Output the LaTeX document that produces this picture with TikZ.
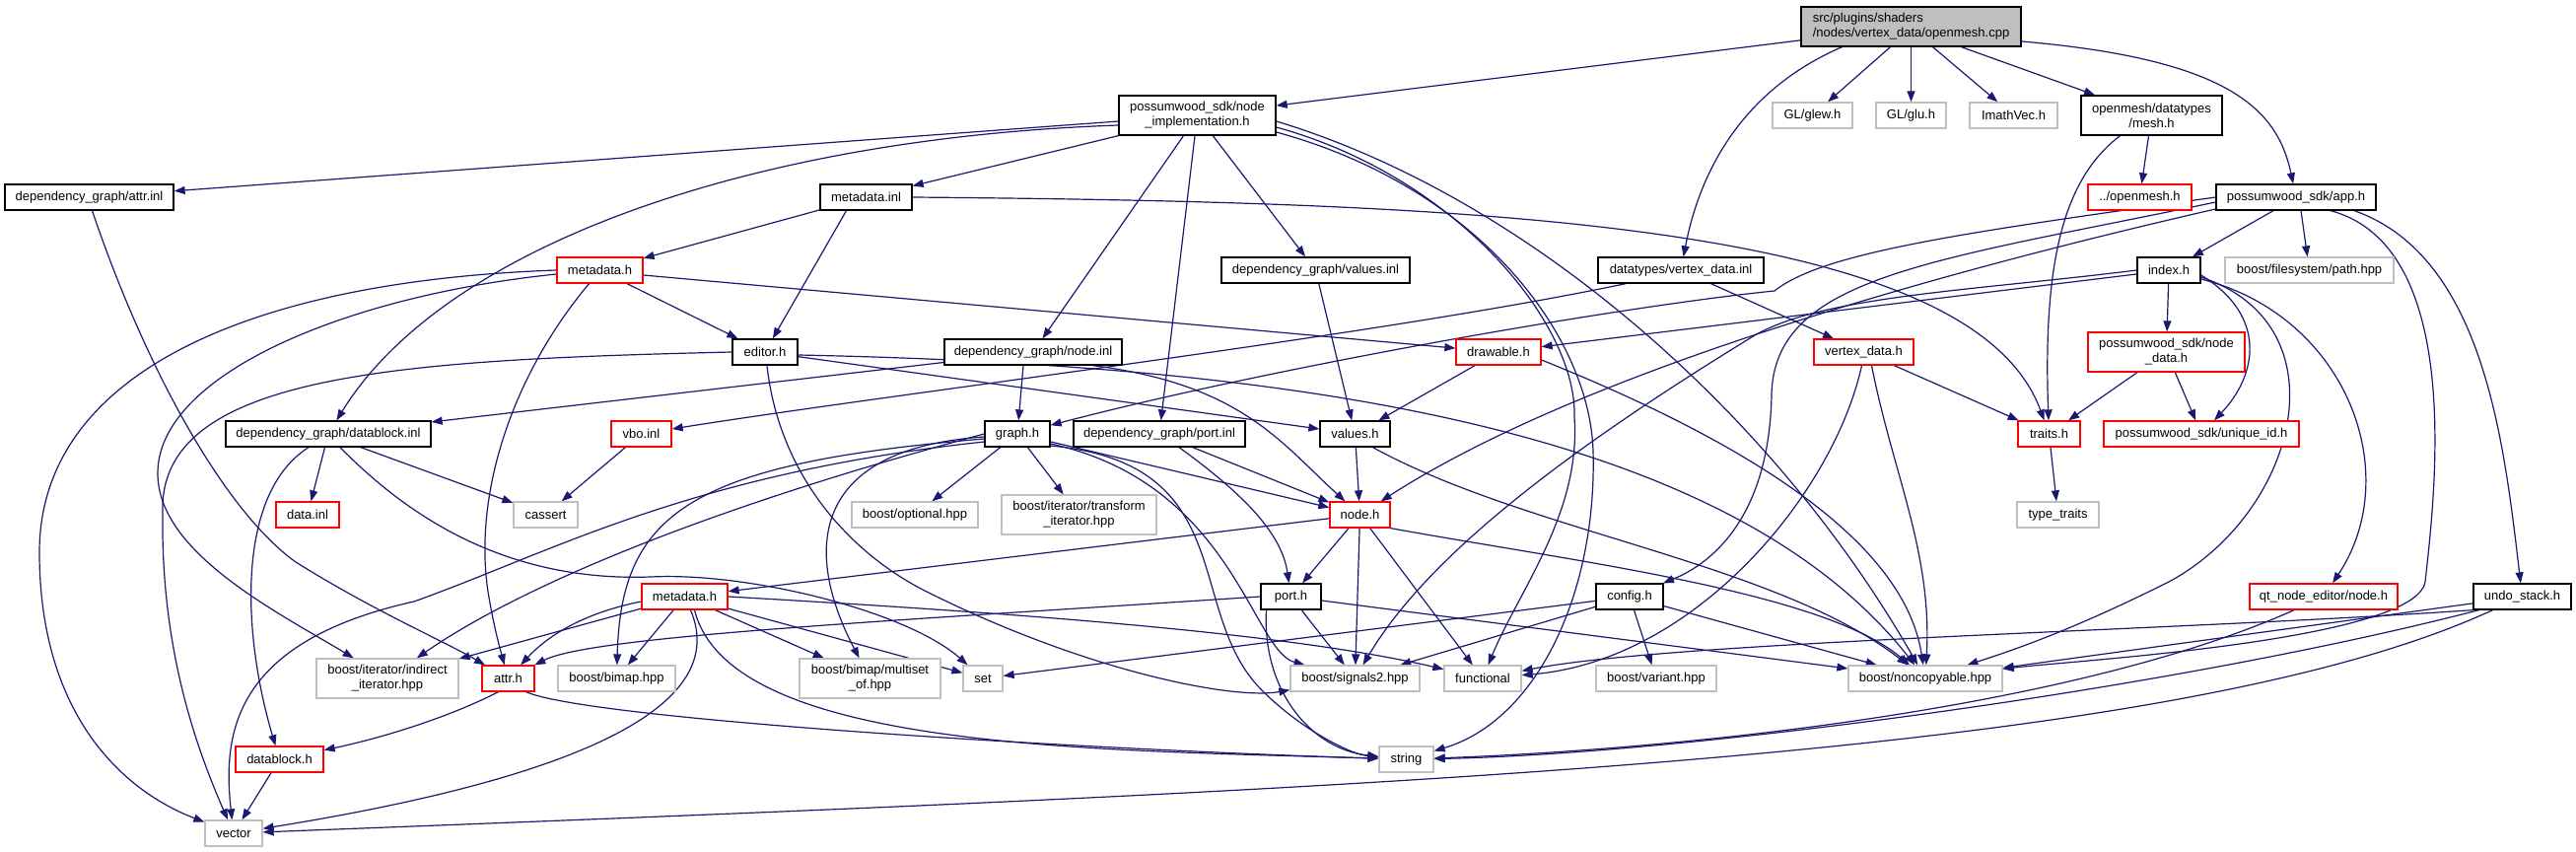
\documentclass[tikz,border=0pt]{standalone}
\usepackage{fontspec}
\setmainfont{Liberation Sans}
\usetikzlibrary{arrows.meta}
\definecolor{edgec}{RGB}{25,25,112}
\definecolor{greyb}{RGB}{191,191,191}
\definecolor{redb}{RGB}{255,0,0}
\pgfdeclarelayer{back}
\pgfdeclarelayer{edges}
\pgfsetlayers{back,edges,main}
\tikzset{
  box/.style={rectangle, inner sep=0pt, line width=1.3pt, fill=white, font=\fontsize{13}{15}\selectfont, align=center},
  blk/.style={box, draw=black},
  rdb/.style={box, draw=redb},
  gyb/.style={box, draw=greyb},
  wh/.style 2 args={minimum width=#1pt, minimum height=#2pt},
  lnk/.style={draw=edgec, line width=1.2pt, -{Triangle[length=11pt,width=8pt]}},
}
\begin{document}
\begin{tikzpicture}[x=1pt,y=-1pt]
\begin{pgfonlayer}{back}
\fill[white] (0,0) rectangle (2613,864);
\end{pgfonlayer}
\useasboundingbox (0,0) rectangle (2613,864);
% rank 0
\node[blk, fill=greyb, align=left, wh={223}{40}] (rt) at (1938.5,27) {src/plugins/shaders\\/nodes/vertex\_data/openmesh.cpp};
% rank 1
\node[blk, wh={159}{40}] (ni) at (1214.5,117) {possumwood\_sdk/node\\\_implementation.h};
\node[gyb, wh={81}{26}] (glew) at (1838.5,117) {GL/glew.h};
\node[gyb, wh={71}{26}] (glu) at (1938.5,117) {GL/glu.h};
\node[gyb, wh={89}{26}] (imath) at (2042.5,117) {ImathVec.h};
\node[blk, wh={143}{40}] (mesh) at (2182.5,117) {openmesh/datatypes\\/mesh.h};
% rank 2
\node[blk, wh={171}{26}] (ainl) at (90.5,200) {dependency\_graph/attr.inl};
\node[blk, wh={93}{26}] (minl) at (878.5,200) {metadata.inl};
\node[rdb, wh={105}{26}] (om) at (2170.5,200) {../openmesh.h};
\node[blk, wh={162}{26}] (app) at (2329,200) {possumwood\_sdk/app.h};
% rank 3
\node[rdb, wh={87}{26}] (mdu) at (608.5,274) {metadata.h};
\node[blk, wh={191}{26}] (vinl) at (1334.5,274) {dependency\_graph/values.inl};
\node[blk, wh={168}{26}] (vdinl) at (1705,274) {datatypes/vertex\_data.inl};
\node[blk, wh={64}{26}] (idx) at (2200,274) {index.h};
\node[gyb, wh={171}{26}] (pth) at (2342.5,274) {boost/filesystem/path.hpp};
% rank 4
\node[blk, wh={66}{26}] (ed) at (776,357) {editor.h};
\node[blk, wh={180}{26}] (ninl) at (1048,357) {dependency\_graph/node.inl};
\node[rdb, wh={86}{26}] (drw) at (1520,357) {drawable.h};
\node[rdb, wh={101}{26}] (vdh) at (1890.5,357) {vertex\_data.h};
\node[rdb, wh={159}{40}] (nd) at (2197.5,357) {possumwood\_sdk/node\\\_data.h};
% rank 5
\node[blk, wh={208}{26}] (dbinl) at (333,440) {dependency\_graph/datablock.inl};
\node[rdb, wh={61}{26}] (vbo) at (650.5,440) {vbo.inl};
\node[blk, wh={66}{26}] (gr) at (1032,440) {graph.h};
\node[blk, wh={174}{26}] (pinl) at (1176,440) {dependency\_graph/port.inl};
\node[blk, wh={71}{26}] (vh) at (1374.5,440) {values.h};
\node[rdb, wh={63}{26}] (tr) at (2078.5,440) {traits.h};
\node[rdb, wh={198}{26}] (uid) at (2233,440) {possumwood\_sdk/unique\_id.h};
% rank 6
\node[rdb, wh={64}{26}] (dinl) at (312,522) {data.inl};
\node[gyb, wh={65}{26}] (cas) at (553.5,522) {cassert};
\node[gyb, wh={128}{26}] (opt) at (928,522) {boost/optional.hpp};
\node[gyb, wh={157}{40}] (tit) at (1094.5,522) {boost/iterator/transform\\\_iterator.hpp};
\node[rdb, wh={61}{26}] (nh) at (1379.5,522) {node.h};
\node[gyb, wh={83}{26}] (tt) at (2087.5,522) {type\_traits};
% rank 7
\node[rdb, wh={87}{26}] (mdl) at (694.5,605) {metadata.h};
\node[blk, wh={61}{26}] (ph) at (1309.5,605) {port.h};
\node[blk, wh={68}{26}] (cfg) at (1653,605) {config.h};
\node[rdb, wh={150}{26}] (qt) at (2357,605) {qt\_node\_editor/node.h};
\node[blk, wh={99}{26}] (us) at (2558.5,605) {undo\_stack.h};
% rank 8
\node[gyb, wh={144}{40}] (ii) at (393,688) {boost/iterator/indirect\\\_iterator.hpp};
\node[rdb, wh={53}{26}] (ah) at (515.5,688) {attr.h};
\node[gyb, wh={119}{26}] (bm) at (625.5,688) {boost/bimap.hpp};
\node[gyb, wh={143}{40}] (ms) at (882.5,688) {boost/bimap/multiset\\\_of.hpp};
\node[gyb, wh={40}{26}] (sett) at (997,688) {set};
\node[gyb, wh={131}{26}] (sig) at (1374.5,688) {boost/signals2.hpp};
\node[gyb, wh={78}{26}] (fn) at (1504,688) {functional};
\node[gyb, wh={122}{26}] (var) at (1680,688) {boost/variant.hpp};
\node[gyb, wh={156}{26}] (nc) at (1953,688) {boost/noncopyable.hpp};
% rank 9
\node[rdb, wh={89}{26}] (dbh) at (283.5,770) {datablock.h};
\node[gyb, wh={55}{26}] (str) at (1426.5,770) {string};
% rank 10
\node[gyb, wh={58}{26}] (vec) at (237,845) {vector};

\begin{pgfonlayer}{edges}
% root
\draw[lnk] (rt) -- (ni);
\draw[lnk] ([xshift=-70pt]rt.south) .. controls (1770,90) and (1725,170) .. (vdinl);
\draw[lnk] ([xshift=-21pt]rt.south) -- (glew);
\draw[lnk] (rt.south) -- (glu);
\draw[lnk] ([xshift=22pt]rt.south) -- (imath);
\draw[lnk] ([xshift=51pt]rt.south) -- (mesh);
\draw[lnk] ([yshift=-15pt]rt.east) .. controls (2260,60) and (2310,110) .. (app);
% node_implementation.h
\draw[lnk] ([yshift=-6pt]ni.west) -- (ainl);
\draw[lnk] (ni.south west) -- (minl);
\draw[lnk] ([yshift=-10pt]ni.west) .. controls (760,140) and (450,250) .. (dbinl);
\draw[lnk] ([xshift=-14pt]ni.south) -- (ninl);
\draw[lnk] (ni) -- (pinl);
\draw[lnk] (ni) -- (vinl);
\draw[lnk] ([yshift=-12pt]ni.east) .. controls (1480,180) and (1600,330) .. (1597,423) .. controls (1604,520) and (1540,600) .. (fn);
\draw[lnk] ([yshift=-17pt]ni.east) .. controls (1500,190) and (1612,340) .. (1616,457) .. controls (1620,600) and (1560,730) .. (str);
\draw[lnk] ([yshift=-6pt]ni.east) .. controls (1550,200) and (1800,420) .. (nc);
% metadata.inl
\draw[lnk] (minl) -- (mdu);
\draw[lnk] ([xshift=-20pt]minl.south) -- (ed);
\draw[lnk] (minl.east) .. controls (1500,205) and (2000,225) .. (tr);
% mesh.h
\draw[lnk] (mesh) -- (om);
\draw[lnk] ([xshift=-32pt]mesh.south) .. controls (2095,180) and (2072,260) .. (tr);
% app.h
\draw[lnk] ([xshift=-23pt]app.south) -- (idx);
\draw[lnk] ([xshift=5pt]app.south) -- (pth);
\draw[lnk] ([xshift=59pt]app.south) .. controls (2520,260) and (2540,450) .. (us);
\draw[lnk] ([xshift=35pt]app.south) .. controls (2500,250) and (2470,500) .. (2460,590) .. controls (2450,650) and (2100,670) .. (nc);
\draw[lnk] (app.west) .. controls (2000,235) and (1850,255) .. (1800,295) .. controls (1650,310) and (1300,370) .. (gr);
\draw[lnk] ([yshift=-5pt]app.west) .. controls (1960,265) and (1800,280) .. (1797,400) .. controls (1795,520) and (1740,570) .. (cfg);
\draw[lnk] ([yshift=-12pt]app.west) .. controls (1950,280) and (1600,380) .. (nh);
% index.h
\draw[lnk] (idx) -- (nd);
\draw[lnk] (idx) -- (drw);
\draw[lnk] (idx.west) .. controls (2000,295) and (1850,300) .. (1780,340) .. controls (1600,450) and (1450,560) .. (sig);
\draw[lnk] ([yshift=-5pt]idx.east) .. controls (2300,320) and (2290,380) .. (uid);
\draw[lnk] ([yshift=-9pt]idx.east) .. controls (2380,320) and (2440,480) .. (qt);
\draw[lnk] ([yshift=-7pt]idx.east) .. controls (2380,330) and (2330,520) .. (2200,590) .. controls (2100,640) and (2040,660) .. (nc);
% values.inl, vertex_data.inl
\draw[lnk] (vinl) -- (vh);
\draw[lnk] (vdinl) -- (vdh);
\draw[lnk] ([xshift=-56pt]vdinl.south) .. controls (1400,340) and (900,400) .. (vbo);
% metadata.h (upper)
\draw[lnk] (mdu) -- (ed);
\draw[lnk] ([yshift=-5pt]mdu.east) -- (drw);
\draw[lnk] (mdu.west) .. controls (250,285) and (40,380) .. (40,560) .. controls (40,720) and (120,800) .. (vec);
\draw[lnk] ([yshift=-4pt]mdu.west) .. controls (350,300) and (160,380) .. (160,480) .. controls (160,560) and (280,620) .. (ii);
\draw[lnk] ([xshift=-11pt]mdu.south) .. controls (520,380) and (480,500) .. (495,600) .. controls (500,630) and (505,650) .. (ah);
% editor.h
\draw[lnk] (ed.west) .. controls (400,365) and (160,380) .. (165,520) .. controls (163,660) and (200,760) .. (vec);
\draw[lnk] ([xshift=2pt]ed.south) .. controls (790,480) and (860,560) .. (940,600) .. controls (1100,680) and (1250,710) .. (sig);
\draw[lnk] (ed) -- (vh);
\draw[lnk] ([yshift=-3pt]ed.east) .. controls (1300,370) and (1750,430) .. (nc);
% node.inl
\draw[lnk] ([xshift=-10pt]ninl.south) -- (gr);
\draw[lnk] (ninl) -- (dbinl);
\draw[lnk] ([xshift=-30pt]ninl.south east) .. controls (1260,390) and (1300,450) .. (nh);
% drawable.h, vertex_data.h, node_data.h, traits.h
\draw[lnk] (drw) -- (vh);
\draw[lnk] ([yshift=-8pt]drw.east) .. controls (1750,440) and (1930,540) .. (nc);
\draw[lnk] (vdh) -- (tr);
\draw[lnk] ([xshift=8pt]vdh.south) .. controls (1920,480) and (1960,560) .. (nc);
\draw[lnk] ([xshift=-2pt]vdh.south) .. controls (1860,500) and (1720,670) .. (fn);
\draw[lnk] (nd) -- (tr);
\draw[lnk] (nd) -- (uid);
\draw[lnk] (tr) -- (tt);
% datablock.inl, vbo.inl
\draw[lnk] (dbinl) -- (dinl);
\draw[lnk] ([xshift=33pt]dbinl.south) -- (cas);
\draw[lnk] ([xshift=-20pt]dbinl.south) .. controls (240,500) and (245,640) .. (dbh);
\draw[lnk] ([xshift=12pt]dbinl.south) .. controls (420,530) and (520,590) .. (660,585) .. controls (760,580) and (920,620) .. (sett);
\draw[lnk] (vbo) -- (cas);
% graph.h
\draw[lnk] (gr) -- (opt);
\draw[lnk] (gr) -- (tit);
\draw[lnk] (gr) -- (nh);
\draw[lnk] ([yshift=-3pt]gr.west) .. controls (820,455) and (815,560) .. (ms);
\draw[lnk] (gr.west) .. controls (700,520) and (520,600) .. (ii);
\draw[lnk] ([yshift=-8pt]gr.west) .. controls (700,480) and (560,560) .. (420,610) .. controls (240,650) and (225,740) .. (vec);
\draw[lnk] ([yshift=-5pt]gr.west) .. controls (700,470) and (630,520) .. (bm);
\draw[lnk] ([yshift=-10pt]gr.east) .. controls (1250,490) and (1270,660) .. (sig);
\draw[lnk] ([yshift=-12pt]gr.east) .. controls (1260,470) and (1200,620) .. (1280,700) .. controls (1320,740) and (1370,765) .. (str);
% port.inl, values.h
\draw[lnk] (pinl) -- (nh);
\draw[lnk] ([xshift=20pt]pinl.south) .. controls (1260,500) and (1300,540) .. (ph);
\draw[lnk] (vh) -- (nh);
\draw[lnk] ([xshift=18pt]vh.south) .. controls (1550,540) and (1800,570) .. (nc);
% node.h
\draw[lnk] (nh) -- (ph);
\draw[lnk] (nh) -- (sig);
\draw[lnk] (nh) -- (fn);
\draw[lnk] (nh.south east) .. controls (1600,570) and (1850,600) .. (nc);
\draw[lnk] (nh) -- (mdl);
% port.h
\draw[lnk] (ph.west) .. controls (900,630) and (600,645) .. (ah);
\draw[lnk] (ph) -- (sig);
\draw[lnk] ([xshift=-25pt]ph.south) .. controls (1280,700) and (1330,760) .. (str);
\draw[lnk] (ph) -- (nc);
% config.h
\draw[lnk] (cfg) -- (sig);
\draw[lnk] (cfg) -- (sett);
\draw[lnk] (cfg) -- (var);
\draw[lnk] (cfg) -- (nc);
% qt_node_editor/node.h, undo_stack.h
\draw[lnk] ([xshift=-30pt]qt.south) .. controls (2100,720) and (1700,760) .. (str);
\draw[lnk] (us) -- (nc);
\draw[lnk] (us.south west) .. controls (2200,640) and (1700,650) .. (fn);
\draw[lnk] ([xshift=-44pt]us.south) .. controls (2200,700) and (1700,765) .. (str);
\draw[lnk] ([xshift=-30pt]us.south) .. controls (2200,770) and (1400,800) .. (vec);
% metadata.h (lower)
\draw[lnk] ([yshift=-5pt]mdl.west) .. controls (600,620) and (560,640) .. (ah);
\draw[lnk] (mdl) -- (bm);
\draw[lnk] (mdl) -- (ms);
\draw[lnk] (mdl) -- (sett);
\draw[lnk] (mdl) -- (ii);
\draw[lnk] ([xshift=6pt]mdl.south) .. controls (735,700) and (640,780) .. (vec);
\draw[lnk] ([xshift=10pt]mdl.south) .. controls (740,760) and (1100,760) .. (str);
\draw[lnk] (mdl.east) .. controls (1000,620) and (1300,640) .. (fn);
% attr.inl, attr.h, datablock.h
\draw[lnk] ([xshift=3pt]ainl.south) .. controls (150,380) and (230,520) .. (300,570) .. controls (380,620) and (450,650) .. (ah);
\draw[lnk] ([xshift=-10pt]ah.south) .. controls (450,730) and (380,750) .. (dbh);
\draw[lnk] ([xshift=18pt]ah.south) .. controls (600,730) and (1100,760) .. (str);
\draw[lnk] (dbh) -- (vec);
\end{pgfonlayer}
\end{tikzpicture}
\end{document}
